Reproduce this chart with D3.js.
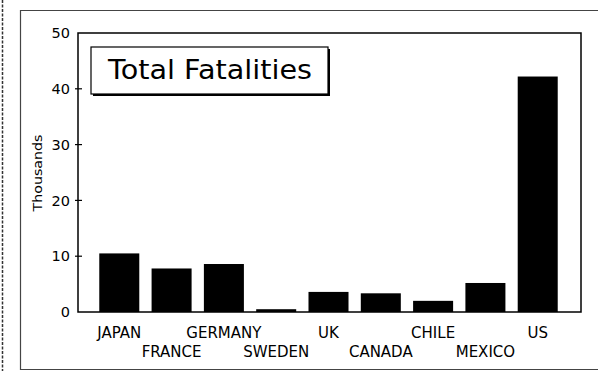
<!DOCTYPE html>
<html>
<head>
<meta charset="utf-8">
<script src="https://cdn.jsdelivr.net/npm/d3@7"></script>
<style>
  html, body { margin: 0; padding: 0; background: #fff; }
  svg { display: block; }
  text { font-family: "DejaVu Sans", sans-serif; fill: #000; }
</style>
</head>
<body>
<script>
// Total traffic fatalities by country, in thousands
const countries = ["JAPAN", "FRANCE", "GERMANY", "SWEDEN", "UK", "CANADA", "CHILE", "MEXICO", "US"];
const fatalities = [10.5, 7.8, 8.6, 0.5, 3.6, 3.35, 2.0, 5.2, 42.2];
const yTicks = [0, 10, 20, 30, 40, 50];
const titleText = "Total Fatalities";
const yLabel = "Thousands";

const W = 598, H = 371;
const svg = d3.select("body").append("svg").attr("width", W).attr("height", H);

// page frame
const frame = svg.append("g").attr("fill", "none");
frame.append("path")
  .attr("d", "M598,10.5H20.5V369.5H598")
  .attr("stroke", "#444").attr("stroke-width", 1.2);
frame.append("line")
  .attr("x1", 2.5).attr("x2", 2.5).attr("y1", 0).attr("y2", H)
  .attr("stroke", "#333").attr("stroke-width", 1.5)
  .attr("stroke-dasharray", "3,1.5");

// plot area
const plot = { left: 78, right: 581, top: 33, bottom: 312 };

const y = d3.scaleLinear().domain([0, 50]).range([plot.bottom, plot.top]);
const x = d3.scaleBand()
  .domain(countries)
  .range([93, 564])
  .paddingInner(0.235)
  .paddingOuter(0.12);

// plot border
svg.append("rect")
  .attr("x", plot.left).attr("y", plot.top)
  .attr("width", plot.right - plot.left).attr("height", plot.bottom - plot.top)
  .attr("fill", "none").attr("stroke", "#000").attr("stroke-width", 1.5);

// bars
svg.append("g").selectAll("rect")
  .data(countries.map((c, i) => ({ c, v: fatalities[i] })))
  .join("rect")
  .attr("x", d => x(d.c))
  .attr("width", x.bandwidth())
  .attr("y", d => y(d.v))
  .attr("height", d => y(0) - y(d.v))
  .attr("fill", "#000");

// y axis
const yAxis = d3.axisLeft(y).tickValues(yTicks).tickSize(0).tickPadding(8).tickFormat(d3.format("d"));
const ya = svg.append("g").attr("transform", `translate(${plot.left},0)`).call(yAxis);
ya.select(".domain").remove();
ya.selectAll("text").attr("font-size", 14.5).attr("font-family", "DejaVu Sans, sans-serif");
svg.append("g").selectAll("line")
  .data(yTicks.filter(t => t > 0 && t < 50))
  .join("line")
  .attr("x1", plot.left - 3).attr("x2", plot.left + 4)
  .attr("y1", d => y(d)).attr("y2", d => y(d))
  .attr("stroke", "#000").attr("stroke-width", 1.2);

// y axis title
svg.append("text")
  .attr("transform", "translate(42,173) rotate(-90)")
  .attr("text-anchor", "middle")
  .attr("font-size", 12.5)
  .attr("textLength", 77).attr("lengthAdjust", "spacingAndGlyphs")
  .text(yLabel);

// category labels, alternating rows
svg.append("g").selectAll("text")
  .data(countries)
  .join("text")
  .attr("x", d => x(d) + x.bandwidth() / 2)
  .attr("y", (d, i) => i % 2 === 0 ? 338 : 356.5)
  .attr("text-anchor", "middle")
  .attr("font-size", 15)
  .text(d => d);

// title box with drop shadow
const tb = { x: 91, y: 47, w: 237, h: 47 };
svg.append("rect")
  .attr("x", tb.x + 2).attr("y", tb.y + 2).attr("width", tb.w).attr("height", tb.h)
  .attr("fill", "#000");
svg.append("rect")
  .attr("x", tb.x).attr("y", tb.y).attr("width", tb.w).attr("height", tb.h)
  .attr("fill", "#fff").attr("stroke", "#000").attr("stroke-width", 1.2);
svg.append("text")
  .attr("x", 108).attr("y", 79)
  .attr("font-size", 26)
  .attr("textLength", 204).attr("lengthAdjust", "spacingAndGlyphs")
  .text(titleText);
</script>
</body>
</html>
